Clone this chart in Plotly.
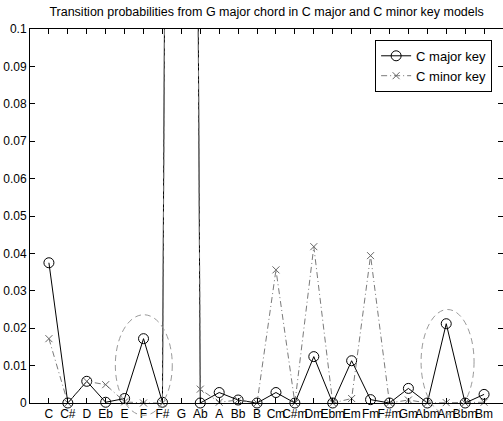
import plotly.graph_objects as go

chords = ["C", "C#", "D", "Eb", "E", "F", "F#", "G", "Ab", "A", "Bb", "B",
          "Cm", "C#m", "Dm", "Ebm", "Em", "Fm", "F#m", "Gm", "Abm", "Am", "Bbm", "Bm"]
major_key = [0.0375, 0.0, 0.0058, 0.0002, 0.0012, 0.0172, 0.0002, 0.95, 0.0, 0.0028, 0.0008, 0.0,
             0.0028, 0.0, 0.0124, 0.0, 0.0113, 0.0009, 0.0, 0.0039, 0.0, 0.0212, 0.0, 0.0023]
minor_key = [0.0172, 0.0, 0.0058, 0.0049, 0.0003, 0.0, 0.0, 0.90, 0.0037, 0.0002, 0.0008, 0.0,
             0.0356, 0.0, 0.0418, 0.0, 0.0012, 0.0394, 0.0, 0.0008, 0.0, 0.0001, 0.0, 0.0002]
y_ticks = [0, 0.01, 0.02, 0.03, 0.04, 0.05, 0.06, 0.07, 0.08, 0.09, 0.1]
y_tick_text = ["0", "0.01", "0.02", "0.03", "0.04", "0.05", "0.06", "0.07", "0.08", "0.09", "0.1"]

# highlight ellipses: (x0, x1, y0, y1) in data units
highlights = [(4.51, 7.52, -0.0033, 0.0236), (20.67, 23.47, -0.003, 0.025)]

X_RANGE = [0, 25]
Y_RANGE = [0, 0.1]
xs = list(range(1, len(chords) + 1))

fig = go.Figure()
fig.add_trace(go.Scatter(
    x=xs, y=major_key, name="C major key", mode="lines+markers",
    line=dict(color="black", width=1),
    marker=dict(symbol="circle-open", size=10, color="black", line=dict(width=1)),
    cliponaxis=False,
))
fig.add_trace(go.Scatter(
    x=xs, y=minor_key, name="C minor key", mode="lines+markers",
    line=dict(color="#7a7a7a", width=1, dash="6px,3px,1px,3px"),
    marker=dict(symbol="x-thin-open", size=7, color="#666666", line=dict(width=1, color="#666666")),
    cliponaxis=False,
))


def xd(v):
    return (v - X_RANGE[0]) / (X_RANGE[1] - X_RANGE[0])


def yd(v):
    return (v - Y_RANGE[0]) / (Y_RANGE[1] - Y_RANGE[0])


for x0, x1, y0, y1 in highlights:
    fig.add_shape(type="circle", xref="x domain", yref="y domain",
                  x0=xd(x0), x1=xd(x1), y0=yd(y0), y1=yd(y1),
                  line=dict(color="#9a9a9a", width=1, dash="6px,4px"), layer="above")

fig.update_layout(
    width=503, height=421,
    margin=dict(l=30, r=0, t=29, b=18),
    paper_bgcolor="white", plot_bgcolor="white",
    font=dict(family="Liberation Sans, Arial, sans-serif", size=12, color="black"),
    title=dict(text="Transition probabilities from G major chord in C major and C minor key models",
               x=0.53, xanchor="center", y=0.972, yanchor="middle",
               font=dict(size=12.5)),
    showlegend=True,
    legend=dict(x=0.977, xanchor="right", y=0.971, yanchor="top",
                bgcolor="white", bordercolor="black", borderwidth=1,
                font=dict(size=13), tracegroupgap=0),
)
fig.update_xaxes(range=X_RANGE, tickvals=xs, ticktext=chords, tickangle=0,
                 ticks="inside", ticklen=5, tickcolor="black", mirror="allticks",
                 showline=True, linecolor="black", linewidth=1, showgrid=False, zeroline=False)
fig.update_yaxes(range=Y_RANGE, tickvals=y_ticks, ticktext=y_tick_text,
                 ticks="inside", ticklen=5, tickcolor="black", mirror="allticks",
                 showline=True, linecolor="black", linewidth=1, showgrid=False, zeroline=False)

fig.write_html("out.html")
